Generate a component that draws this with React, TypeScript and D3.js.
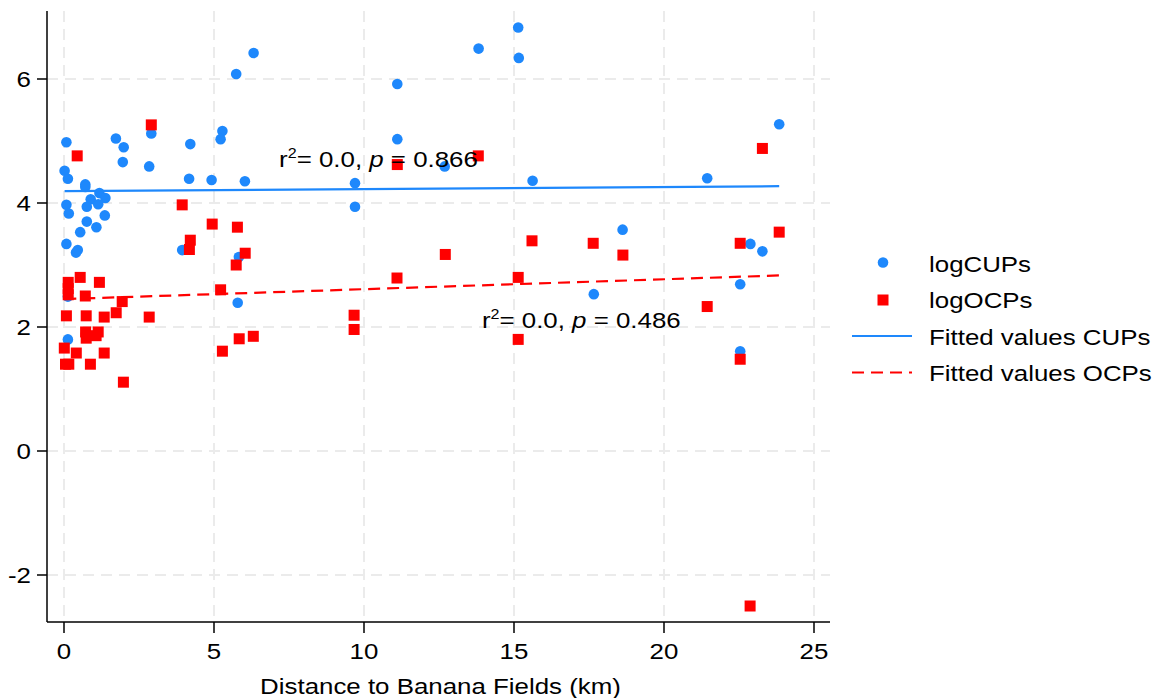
import React from 'react';
import * as d3 from 'd3';

const width = 1153;
const height = 698;

// logCUPs (blue circles)
const cupsX = [0.08, 1.73, 1.99, 1.96, 2.91, 2.84, 4.21, 5.28, 5.22, 4.17, 4.92, 6.03, 0.02, 0.13, 0.71, 0.71, 1.18, 1.38, 0.89, 1.14, 0.76, 0.08, 0.16, 1.36, 0.76, 1.08, 0.54, 0.08, 0.46, 0.40, 3.94, 5.83, 5.79, 0.13, 0.13, 6.32, 5.74, 11.11, 11.11, 9.70, 9.70, 15.14, 13.82, 15.16, 12.69, 15.62, 18.62, 17.66, 23.84, 21.44, 22.88, 23.28, 22.54, 22.54];
const cupsY = [4.98, 5.04, 4.90, 4.66, 5.12, 4.59, 4.95, 5.16, 5.03, 4.39, 4.37, 4.35, 4.52, 4.39, 4.30, 4.26, 4.16, 4.08, 4.06, 3.98, 3.94, 3.97, 3.83, 3.80, 3.70, 3.61, 3.53, 3.34, 3.24, 3.20, 3.24, 3.13, 2.39, 2.49, 1.80, 6.42, 6.08, 5.92, 5.03, 4.32, 3.94, 6.83, 6.49, 6.34, 4.59, 4.36, 3.57, 2.53, 5.27, 4.40, 3.34, 3.22, 2.69, 1.61];

// logOCPs (red squares)
const ocpsX = [2.91, 0.44, 3.94, 4.94, 5.78, 5.74, 4.18, 4.21, 6.04, 0.54, 1.18, 0.14, 0.14, 0.14, 0.71, 1.94, 5.22, 0.08, 0.74, 1.34, 1.74, 2.84, 0.72, 1.14, 0.74, 1.07, 0.01, 0.41, 1.34, 0.05, 0.16, 0.88, 1.98, 5.28, 5.84, 6.31, 11.11, 11.10, 13.81, 15.60, 17.64, 18.63, 12.71, 15.14, 9.67, 9.67, 15.14, 23.28, 22.54, 23.84, 21.44, 22.54, 22.87];
const ocpsY = [5.26, 4.76, 3.97, 3.66, 3.61, 3.00, 3.25, 3.40, 3.19, 2.80, 2.72, 2.72, 2.62, 2.52, 2.50, 2.41, 2.60, 2.18, 2.18, 2.16, 2.23, 2.16, 1.92, 1.92, 1.82, 1.86, 1.66, 1.58, 1.58, 1.40, 1.40, 1.40, 1.11, 1.61, 1.81, 1.85, 4.62, 2.79, 4.76, 3.39, 3.35, 3.16, 3.17, 2.80, 2.19, 1.96, 1.80, 4.88, 3.35, 3.53, 2.33, 1.48, -2.50];

// fitted lines: [intercept, slope]
const fitCups = [4.19, 0.0034];
const fitOcps = [2.45, 0.016];

const xTicks = [0, 5, 10, 15, 20, 25];
const yTicks = [-2, 0, 2, 4, 6];

const notes = [
  { x: 7.17, y: 4.69, p: '0.866' },
  { x: 13.93, y: 2.1, p: '0.486' },
];

const legendLabels = ['logCUPs', 'logOCPs', 'Fitted values CUPs', 'Fitted values OCPs'];

const BLUE = '#1e88fc';
const RED = '#ff0000';
const GRID = '#ebebeb';
const FONT = '"Liberation Sans", Arial, Helvetica, sans-serif';
const FS = 22.5;
const SX = 1.15; // the original's glyphs run wider than Arial

const x = d3.scaleLinear().domain([0, 25]).range([64, 814]);
const y = d3.scaleLinear().domain([-2, 6]).range([575, 79]);

const plotLeft = 47;
const plotRight = 830;
const plotTop = 11;
const plotBottom = 622;

const fitPath = (fit: number[], xs: number[]) => {
  const [lo, hi] = d3.extent(xs) as [number, number];
  const line = d3.line<number>().x(d => x(d)).y(d => y(fit[0] + fit[1] * d));
  return line([lo, hi]) || '';
};

// text stretched horizontally around its anchor point
const Label = ({ x: tx, y: ty, anchor = 'start', dy, children }: any) => (
  <g transform={`translate(${tx},${ty}) scale(${SX},1)`}>
    <text textAnchor={anchor} dy={dy} fontSize={FS}>{children}</text>
  </g>
);

export default function App() {
  const cups = cupsX.map((v, i) => ({ x: v, y: cupsY[i] }));
  const ocps = ocpsX.map((v, i) => ({ x: v, y: ocpsY[i] }));

  return (
    <svg width={width} height={height} style={{ position: 'absolute', left: 0, top: 0, background: '#fff' }} fontFamily={FONT}>
      {/* grid */}
      {xTicks.map(t => (
        <line key={'gx' + t} x1={x(t)} x2={x(t)} y1={plotTop} y2={plotBottom} stroke={GRID} strokeWidth={2} strokeDasharray="11,7" />
      ))}
      {yTicks.map(t => (
        <line key={'gy' + t} x1={plotLeft} x2={plotRight} y1={y(t)} y2={y(t)} stroke={GRID} strokeWidth={2} strokeDasharray="11,7" />
      ))}

      {/* points */}
      {cups.map((d, i) => (
        <circle key={'c' + i} cx={x(d.x)} cy={y(d.y)} r={5.3} fill={BLUE} />
      ))}
      {ocps.map((d, i) => (
        <rect key={'o' + i} x={x(d.x) - 5.5} y={y(d.y) - 5.5} width={11} height={11} fill={RED} />
      ))}

      {/* fitted lines */}
      <path d={fitPath(fitCups, cupsX)} stroke={BLUE} strokeWidth={2.2} fill="none" />
      <path d={fitPath(fitOcps, ocpsX)} stroke={RED} strokeWidth={2.2} fill="none" strokeDasharray="12,7" />

      {/* axes */}
      <line x1={plotLeft} x2={plotLeft} y1={plotTop} y2={plotBottom} stroke="#000" strokeWidth={1.5} />
      <line x1={plotLeft} x2={plotRight} y1={plotBottom} y2={plotBottom} stroke="#000" strokeWidth={1.5} />
      {yTicks.map(t => (
        <g key={'yt' + t}>
          <line x1={plotLeft - 10} x2={plotLeft} y1={y(t)} y2={y(t)} stroke="#000" strokeWidth={1.5} />
          <Label x={plotLeft - 16} y={y(t)} dy="0.35em" anchor="end">{t}</Label>
        </g>
      ))}
      {xTicks.map(t => (
        <g key={'xt' + t}>
          <line x1={x(t)} x2={x(t)} y1={plotBottom} y2={plotBottom + 11} stroke="#000" strokeWidth={1.5} />
          <Label x={x(t)} y={plotBottom + 37} anchor="middle">{t}</Label>
        </g>
      ))}
      <Label x={(plotLeft + plotRight) / 2 + 2} y={694} anchor="middle">Distance to Banana Fields (km)</Label>

      {/* annotations */}
      {notes.map((n, i) => (
        <Label key={'n' + i} x={x(n.x)} y={y(n.y) + 7}>
          r<tspan fontSize={14} dy={-9}>2</tspan>
          <tspan dy={9}>= 0.0, </tspan>
          <tspan fontStyle="italic">p</tspan>
          <tspan> = {n.p}</tspan>
        </Label>
      ))}

      {/* legend */}
      <g>
        <circle cx={883} cy={262.5} r={5.3} fill={BLUE} />
        <rect x={877.5} y={294.5} width={11} height={11} fill={RED} />
        <line x1={852} x2={912} y1={336} y2={336} stroke={BLUE} strokeWidth={2.2} />
        <line x1={852} x2={912} y1={372.5} y2={372.5} stroke={RED} strokeWidth={2.2} strokeDasharray="12,7" />
        {legendLabels.map((l, i) => (
          <Label key={l} x={929} y={264 + i * 36.5} dy="0.35em">{l}</Label>
        ))}
      </g>
    </svg>
  );
}
